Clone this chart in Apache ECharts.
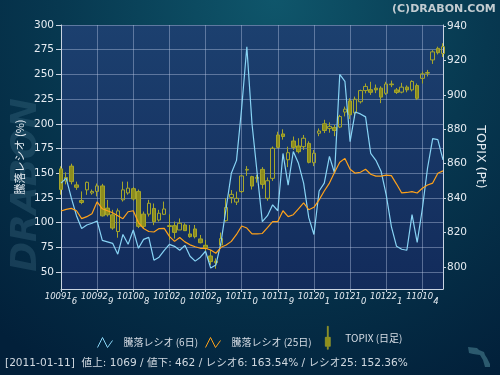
<!DOCTYPE html>
<html><head><meta charset="utf-8">
<script src="https://cdn.jsdelivr.net/npm/echarts@6/dist/echarts.min.js"></script>
<style>html,body{margin:0;padding:0;background:#03223a}#c{width:500px;height:375px}</style>
</head><body><div id="c"></div>
<script>
// ---- data ----
const dates = ['100916','100917','100921','100922','100924','100927','100928','100929','100930',
  '101001','101004','101005','101006','101007','101008','101012','101013','101014','101015','101018','101019','101020','101021','101022','101025','101026','101027','101028','101029',
  '101101','101102','101104','101105','101108','101109','101110','101111','101112','101115','101116','101117','101118','101119','101122','101124','101125','101126','101129','101130',
  '101201','101202','101203','101206','101207','101208','101209','101210','101213','101214','101215','101216','101217','101220','101221','101222','101224','101227','101228','101229','101230',
  '110104','110105','110106','110107','110111'];
const ratio6 = [140,145,125,107,94,97.6,99.3,101.6,82,80.5,79,68,88,78,92.5,74,83,85,62,65,72,78,76,72,77,66,61,65,71,54,57,80,115,150,163,216,278,200,150,101,107,118,112,170,138,172,160,140,105,88,132,140,167,150,250,243,182,212,210,207,170,163,152,128,96,76,73,72,108,80,114,155,185,184,163.54];
const ratio25 = [111.7,113.4,114.4,112,104,106,109,121,114,112,110,107,104,111,112,100,94,91,90.5,94,94.2,86,81,85,80.5,77.5,75.6,74,74,72.3,69,75,77.3,81,88,96.6,94.5,88.5,88.5,89,95,101,101,112,106,108,114,120,113,115.5,123,132,140,151,161,165,154,150,151,154,149,147,147,148,147.5,139,130,130.5,131.4,130,134.7,138,140,150,152.36];
const topixOpen  = [857,850,858.6,847.7,838.6,844.8,843,843.9,847.1,834.2,830.3,820.6,839,843,845.5,843.9,830.7,830.7,834,827.3,830.6,824,824,821.5,824.4,819.2,822.1,816.3,812.6,806.4,803.3,812.8,826.9,840.4,837.7,843.8,856.3,852.5,852,856.7,839.9,851.5,876.7,877.3,862.3,873.2,870.3,869.9,871.8,860.6,877.7,883.2,880.5,881,881.3,890,896.5,889.5,896,902.5,903,903.9,903.9,900.9,906.3,902.9,901.6,904.5,902.9,905.4,909.6,912.6,920.3,927,924];
const topixClose = [845,852,849.6,846.3,837.5,849.2,843.9,847.1,829.7,830.3,822.6,832.6,844.8,845.8,839.5,823.6,823.6,837,826.3,831.2,833.7,823.5,820.1,825.4,821.1,817.6,817.6,814.1,810.9,803.1,802.5,816.5,834.6,842.2,839.9,852.9,856.7,847,851.5,848,850.1,869,869.5,875.8,866.4,869.5,867,874.8,860.8,866.1,879,879.3,881.7,879.3,887.4,891.7,888.4,897.5,902.5,904.9,901.5,902.9,898.7,906.3,905.9,901.4,904.5,902.9,907.8,898,912.2,913,925,924.5,928];
const topixLow   = [842,848,848,844.8,836.5,841.9,842,841,829.3,829.3,821.6,817,838,842,838.5,822.6,822.6,829.3,824.3,826.4,830.2,815.8,816.5,821.5,821,817,816.6,813.7,809,801.2,799,812.2,826.3,837,836,843,852.9,845,849,845.5,838.5,850,868.9,874,858,868,866,868,860.2,858.6,876,877.8,878,876,880.7,887.5,886,886.5,895,900.9,900,901,895.2,900,904.5,900.5,900.9,901.5,902,897,906.6,910.7,918,923.5,922];
const topixHigh  = [858.5,855,860,849.6,843.9,849.6,845,848.5,848.3,839,833.2,834,849.6,849.6,846.5,845,832.2,839,836.9,833.2,838,830.6,826.4,828.2,825.4,824.4,824.4,818.6,815.7,809.9,805,820,839.9,844.7,843.8,853.5,858.6,853,853.5,858,852,870,878.6,880,869.9,875.8,874.8,876.7,873,868,880.5,885.5,884,882.5,888.4,893.2,898,899,903,906.6,907.6,906,905,907.6,908.3,904,907,905.5,908.5,906.6,913.5,914.5,926,928,930];
const leftTicks  = [50,75,100,125,150,175,200,225,250,275,300];
const rightTicks = [800,820,840,860,880,900,920,940];
const infoDate = '2011-01-11';
const advances = 1069;
const declines = 462;
const names = ['騰落レシオ (6日)','騰落レシオ (25日)','TOPIX (日足)'];

// ---- chart ----
const candles = dates.map((d,i)=>[topixOpen[i],topixClose[i],topixLow[i],topixHigh[i]]);
const axisCol = '#c9d3e1';
const gridCol = 'rgba(185,200,228,0.42)';
const labelFont = {fontFamily:'DejaVu Sans', fontSize:10.5, color:'#e6ecf2'};
const chart = echarts.init(document.getElementById('c'), null, {renderer:'canvas'});
const info = `[${infoDate}]  値上: ${advances} / 値下: ${declines} / レシオ6: ${ratio6[ratio6.length-1].toFixed(2)}% / レシオ25: ${ratio25[ratio25.length-1].toFixed(2)}%`;
chart.setOption({
  animation:false,
  backgroundColor:{type:'radial',x:0.55,y:0,r:1.15,colorStops:[{offset:0,color:'#0f566b'},{offset:0.5,color:'#073850'},{offset:1,color:'#02203a'}]},
  grid:{left:61,right:57,top:25,bottom:86,show:true,borderWidth:0,outerBoundsMode:'none',
    backgroundColor:{type:'linear',x:0,y:0,x2:0,y2:1,colorStops:[{offset:0,color:'#1c406f'},{offset:1,color:'#122b5b'}]}},
  xAxis:{type:'category',data:dates,boundaryGap:false,
    axisLine:{lineStyle:{color:axisCol,width:1}},
    axisTick:{show:true,interval:6,length:3,lineStyle:{color:axisCol}},
    axisLabel:{interval:6,margin:3,hideOverlap:false,
      formatter:v=>'{a|'+v.slice(0,5)+'}{b|'+v.slice(5)+'}',
      rich:{a:{fontFamily:'DejaVu Sans',fontStyle:'italic',fontSize:8.5,color:'#e6ecf2',verticalAlign:'top'},
            b:{fontFamily:'DejaVu Sans',fontStyle:'italic',fontSize:8.5,color:'#e6ecf2',verticalAlign:'top',padding:[5,0,0,0]}}},
    splitLine:{show:true,interval:6,lineStyle:{color:gridCol,width:1}}},
  yAxis:[
    {type:'value',position:'left',min:32.8,max:300,
      name:names[0].slice(0,5)+' (%)',nameLocation:'middle',nameGap:36,nameMoveOverlap:false,
      nameTextStyle:{fontFamily:'Noto Sans CJK JP',fontSize:11,color:'#e6ecf2'},
      axisLine:{show:true,lineStyle:{color:axisCol}},
      axisTick:{show:true,customValues:leftTicks,length:5,lineStyle:{color:axisCol}},
      axisLabel:Object.assign({customValues:leftTicks,margin:7},labelFont),
      splitLine:{show:true,lineStyle:{color:gridCol,width:1}}},
    {type:'value',position:'right',min:787.2,max:940.6,
      name:'TOPIX (Pt)',nameLocation:'middle',nameGap:31,nameRotate:-90,nameMoveOverlap:false,
      nameTextStyle:{fontFamily:'DejaVu Sans',fontSize:12.5,color:'#e6ecf2'},
      axisLine:{show:true,lineStyle:{color:axisCol}},
      axisTick:{show:true,customValues:rightTicks,length:3,lineStyle:{color:axisCol}},
      axisLabel:Object.assign({customValues:rightTicks,margin:4},labelFont),
      splitLine:{show:false}}
  ],
  legend:[
    {left:97,top:337,padding:0,itemWidth:15,itemHeight:10,
      data:[{name:names[0],icon:'path://M0,10L5,0L10,10L15,3',itemStyle:{color:'rgba(0,0,0,0)',borderColor:'#88d4f5',borderWidth:1}}],
      textStyle:{fontFamily:'Noto Sans CJK JP',fontSize:10,color:'#d8dee6',padding:[0,0,0,6]}},
    {left:205,top:337,padding:0,itemWidth:15,itemHeight:10,
      data:[{name:names[1],icon:'path://M0,10L5,0L10,10L15,3',itemStyle:{color:'rgba(0,0,0,0)',borderColor:'#ffa21a',borderWidth:1}}],
      textStyle:{fontFamily:'Noto Sans CJK JP',fontSize:10,color:'#d8dee6',padding:[0,0,0,6]}},
    {left:325,top:326,padding:0,itemWidth:5,itemHeight:23,
      data:[{name:names[2],icon:'path://M2,0L3,0L3,11L5,11L5,20L3,20L3,23L2,23L2,20L0,20L0,11L2,11Z',itemStyle:{color:'#8f8f1c',borderColor:'#a9a92c',borderWidth:0.6}}],
      textStyle:{fontFamily:'Noto Sans CJK JP',fontSize:10,color:'#d8dee6',padding:[11,0,0,10]}}
  ],
  series:[
    {type:'candlestick',name:names[2],yAxisIndex:1,data:candles,barWidth:4,clip:false,
      itemStyle:{color:'rgba(0,0,0,0)',color0:'#8c8c1e',borderColor:'#a6a62a',borderColor0:'#a6a62a',borderWidth:1}},
    {type:'line',name:names[0],data:ratio6,symbol:'none',showSymbol:false,
      lineStyle:{color:'#88d4f5',width:1.2},itemStyle:{color:'#88d4f5'}},
    {type:'line',name:names[1],data:ratio25,symbol:'none',showSymbol:false,
      lineStyle:{color:'#ffa21a',width:1.2},itemStyle:{color:'#ffa21a'}}
  ],
  graphic:[
    {type:'text',left:392,top:4,style:{text:'(C)DRABON.COM',font:'bold 11px "DejaVu Sans"',fill:'#c3ccd1'}},
    {type:'text',x:27,y:185,rotation:Math.PI/2,z:-10,silent:true,
      style:{text:'DRABON',font:'italic bold 36px "DejaVu Sans"',fill:'rgba(95,145,170,0.22)',align:'center',verticalAlign:'middle'}},
    {type:'polygon',shape:{points:[[468,347],[477,348],[479,350],[484,352],[485,355],[487,358],[490,364],[490,367],[485,367],[483,360],[480,355],[473,354],[469,353]]},style:{fill:'#2c5a6e'}},
    {type:'text',left:5,top:358,style:{text:info,font:'10.6px "DejaVu Sans", "Noto Sans CJK JP"',fill:'#d0d8e0'}}
  ]
});
</script></body></html>
